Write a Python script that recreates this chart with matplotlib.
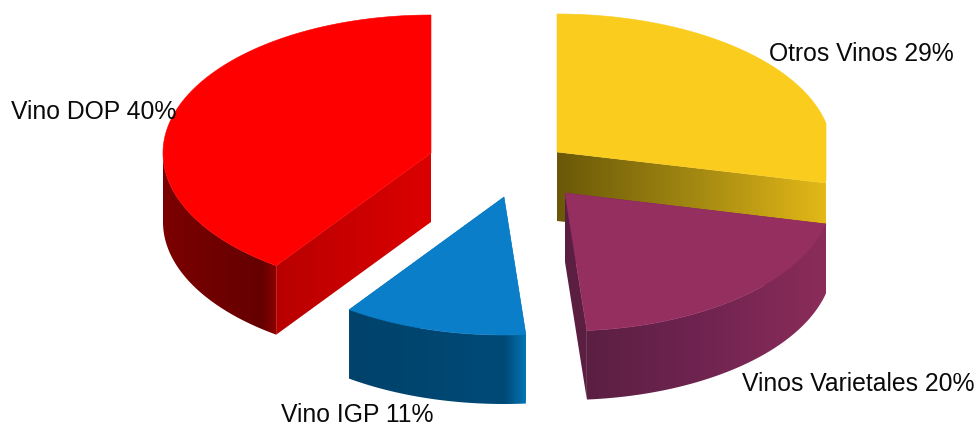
import numpy as np
import matplotlib
matplotlib.use("Agg")
import matplotlib.pyplot as plt
from matplotlib.colors import to_rgb
from matplotlib.patches import Polygon

# data (clockwise from twelve o'clock)
names = ["Otros Vinos", "Vinos Varietales", "Vino IGP", "Vino DOP"]
values = [28.6, 20.1, 11.1, 40.2]
shown = ["29%", "20%", "11%", "40%"]

# styling
apex = [(557, 152), (565, 193), (504, 197), (431, 153)]
radius_x = [275, 268, 268, 268]
top_col = ["#FACC1D", "#952F60", "#0A7EC8", "#FE0000"]
rim_stops = [
    [(557, "#6b5a08"), (826, "#e8bd18")],
    [(586, "#5b1f42"), (700, "#6f2450"), (826, "#8c2c5a")],
    [(349, "#00426a"), (505, "#004a78"), (526, "#0074b4")],
    [(163, "#7c0000"), (262, "#650000"), (276, "#8e0000")],
]
cut_stops = [
    [(557, "#6a5808"), (700, "#a58a12"), (826, "#e3b818")],
    [(565, "#5b1f42"), (586, "#5b1f42")],
    [(349, "#00426a"), (526, "#0074b4")],
    [(275, "#b80000"), (431, "#dc0000")],
]
label_pos = [(769, 61), (742, 391), (281, 422), (11, 119)]
RY, DEPTH = 138, 69
CLIP_X = 826

fig = plt.figure(figsize=(9.78, 4.26), dpi=100)
ax = fig.add_axes([0, 0, 1, 1])
ax.autoscale(False)
ax.axis("off")

order = [0]


def next_z():
    order[0] += 1
    return order[0]


def gradient_fill(verts, stops):
    verts = np.array(verts, dtype=float)
    verts[:, 0] = np.minimum(verts[:, 0], CLIP_X)
    x0, x1 = verts[:, 0].min(), verts[:, 0].max()
    y0, y1 = verts[:, 1].min(), verts[:, 1].max()
    if x1 - x0 < 1:
        return
    xs = np.linspace(x0, x1, 400)
    sx = [s[0] for s in stops]
    cs = np.array([to_rgb(s[1]) for s in stops])
    row = np.stack([np.interp(xs, sx, cs[:, k]) for k in range(3)], axis=-1)[None, :, :]
    im = ax.imshow(row, extent=(x0, x1, y1, y0), aspect="auto",
                   interpolation="bilinear", zorder=next_z())
    im.set_clip_path(Polygon(verts, closed=True, transform=ax.transData))


def rim_point(a, rx, t):
    return a[0] + rx * np.sin(t), a[1] - RY * np.cos(t)


edges = np.deg2rad(np.concatenate([[0], np.cumsum(values) * 3.6]))

for i in range(len(values)):
    a, rx = apex[i], radius_x[i]
    t0, t1 = edges[i], edges[i + 1]
    # radial cut faces
    for t in (t0, t1):
        ex, ey = rim_point(a, rx, t)
        gradient_fill([(a[0], a[1]), (ex, ey), (ex, ey + DEPTH), (a[0], a[1] + DEPTH)], cut_stops[i])
    # outer rim: only its front half can be seen
    front = np.linspace(max(t0, np.pi / 2), min(t1, 3 * np.pi / 2), 200)
    fx, fy = rim_point(a, rx, front)
    gradient_fill(np.column_stack([np.r_[fx, fx[::-1]], np.r_[fy, fy[::-1] + DEPTH]]), rim_stops[i])
    # top face
    ts = np.linspace(t0, t1, 240)
    xs, ys = rim_point(a, rx, ts)
    verts = np.column_stack([np.r_[a[0], np.minimum(xs, CLIP_X)], np.r_[a[1], ys]])
    ax.add_patch(Polygon(verts, closed=True, facecolor=top_col[i], edgecolor=top_col[i],
                         linewidth=0.4, zorder=next_z()))

for name, pct, (x, y) in zip(names, shown, label_pos):
    ax.text(x, y, f"{name} {pct}", family="Liberation Sans", fontsize=17.8,
            color="#0a0a0a", ha="left", va="baseline", zorder=1000)

ax.set_xlim(0, 978)
ax.set_ylim(426, 0)
fig.savefig("out.png", dpi=100, facecolor="white")
